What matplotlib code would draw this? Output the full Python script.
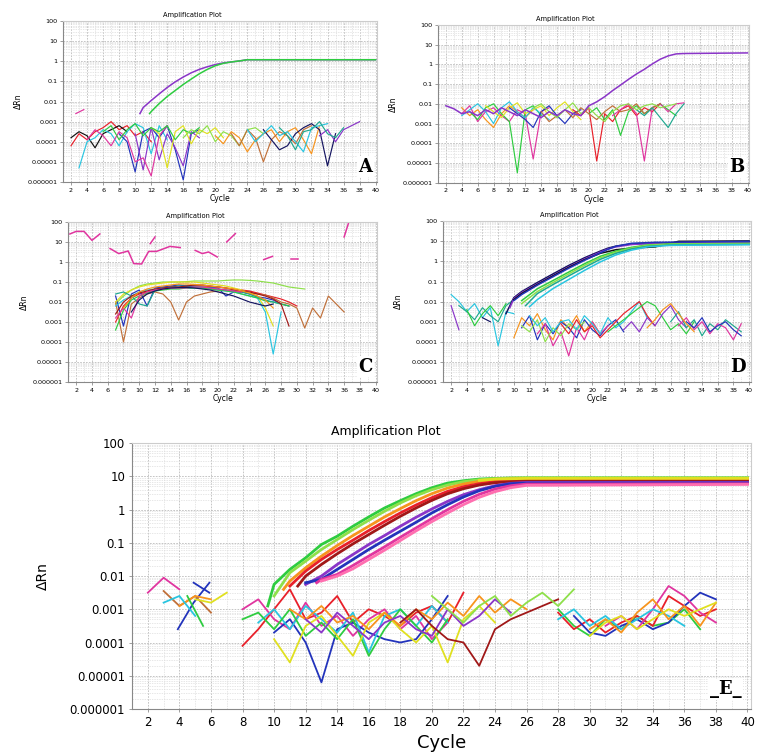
import numpy as np
import matplotlib.pyplot as plt
from matplotlib.ticker import FixedLocator, NullFormatter

# ............................................................ colours
RED = '#e8202a'; ORG = '#f7941d'; YEL = '#e0e020'; GRN = '#2ecc40'; LGR = '#8ee04a'
CYN = '#29c5e0'; BLU = '#2233bb'; NAV = '#141460'; PUR = '#8a35c8'; MAG = '#e0359f'
PNK = '#ff6fb0'; BRN = '#c0703a'; TEA = '#1fa88f'; DRD = '#a01818'; BLK = '#111111'

# ............................................................ axis texts
cycle_ticks = list(range(2, 41, 2))
drn_ticks = [1e-6, 1e-5, 1e-4, 1e-3, 1e-2, 1e-1, 1, 10, 100]
drn_labels = ['0.000001', '0.00001', '0.0001', '0.001', '0.01', '0.1', '1', '10', '100']

# ............................................................ panel A (log10 dRn)
A_amp = [
    (PUR, [10.6, 11, 12, 13, 14, 15, 16, 17, 18, 19, 20, 21, 22, 23, 24, 40],
          [-2.6, -2.3, -1.95, -1.62, -1.3, -1.02, -0.78, -0.57, -0.4, -0.27, -0.16, -0.08, -0.03,
           0.02, 0.08, 0.08]),
    (GRN, [11.8, 12, 13, 14, 15, 16, 17, 18, 19, 20, 21, 22, 23, 24, 40],
          [-2.6, -2.5, -2.1, -1.75, -1.45, -1.15, -0.88, -0.62, -0.4, -0.22, -0.1, -0.03, 0.02,
           0.08, 0.08]),
]
A_noise = [
    (RED, 2, [-4.2, -3.6, -3.9, -3.5, -3.3, -3.0, -3.4, -3.2, -3.7, -3.5, -4.0]),
    (BLK, 2, [-3.8, -3.5, -3.7, -4.3, -3.6, -3.4, -3.2, -3.5]),
    (CYN, 3, [-5.3, -4.0, -3.8, -3.4, -3.6, -4.2, -3.5, -3.1, -3.3, -4.6, -3.2, -3.9]),
    (BLU, 8, [-3.6, -4.0, -5.5, -3.5, -3.3, -3.8, -3.2, -4.4, -5.9, -3.6, -3.4]),
    (PUR, 10, [-3.6, -5.4, -3.3, -4.9, -3.6, -4.3, -5.2, -3.5, -3.8]),
    (MAG, 4, [-3.9, -3.4, -3.7, -4.2, -3.5, -3.8, -5.0, -4.8, -5.7, -3.7, -3.2]),
    (YEL, 12, [-3.3, -3.6, -5.3, -3.5, -3.2, -4.1, -3.4, -3.6, -3.3, -3.8]),
    (GRN, 6, [-3.5, -3.2, -3.9, -3.4, -3.1, -3.7, -3.3, -3.5, -3.2, -3.9, -3.4, -3.6, -3.3]),
    (LGR, 16, [-3.8, -3.4, -3.6, -3.2, -4.0, -3.5, -3.7, -4.2, -3.4, -3.3, -3.6]),
    (ORG, 20, [-3.7, -4.1, -3.5, -3.8, -4.5, -3.9, -3.6, -3.4, -4.0, -3.5, -3.3, -3.9, -4.6, -3.2]),
    (BRN, 22, [-3.6, -4.2, -3.4, -3.8, -5.0, -3.9, -3.5, -3.7, -4.1, -3.4, -3.2]),
    (NAV, 26, [-3.4, -3.9, -4.4, -4.2, -3.6, -3.3, -3.1, -3.4, -5.2, -3.6]),
    (CYN, 24, [-3.4, -4.0, -3.6, -3.2, -3.7, -3.5, -4.0, -4.5, -3.3, -3.2, -3.1]),
    (PUR, 33, [-3.7, -3.4, -4.0, -3.4, -3.2, -3.0]),
    (TEA, 28, [-3.3, -3.7, -4.4, -3.5, -3.4, -3.0, -3.6, -3.8, -3.3]),
    (MAG, 2.6, [-2.6, -2.4]),
]

# ............................................................ panel B
B_amp = [
    (PUR, [2, 3, 4, 5, 6, 7, 8, 9, 10, 11, 12, 13, 14, 15, 16, 17, 18, 19, 20, 21, 22, 23, 24, 25,
           26, 27, 28, 29, 30, 31, 32, 40],
          [-2.1, -2.25, -2.5, -2.4, -2.6, -2.3, -2.5, -2.2, -2.4, -2.6, -2.3, -2.5, -2.7, -2.4, -2.6,
           -2.3, -2.5, -2.6, -2.1, -1.9, -1.64, -1.33, -1.05, -0.76, -0.49, -0.25, 0.02, 0.26, 0.43,
           0.53, 0.55, 0.58]),
]
B_noise = [
    (ORG, 4, [-2.2, -2.6, -2.3, -2.8, -3.2, -2.5, -2.1, -2.4, -2.7, -2.3]),
    (MAG, 4, [-2.5, -2.1, -2.9, -2.4, -2.2, -2.6, -2.9, -2.3, -2.5, -4.8, -2.4, -2.2]),
    (GRN, 5, [-2.4, -2.8, -2.2, -2.0, -2.5, -2.9, -5.5, -2.3, -2.1, -2.6]),
    (CYN, 4, [-2.6, -2.3, -2.0, -2.4, -3.0, -2.2, -1.9, -2.4, -2.7, -2.2, -2.5, -2.8]),
    (YEL, 7, [-2.1, -2.4, -2.7, -2.2, -1.95, -2.5, -2.3, -2.1, -2.6, -2.2, -1.9, -2.4, -2.8]),
    (BLU, 10, [-2.2, -2.5, -2.8, -3.2, -2.4, -2.1, -2.6, -3.0, -2.5, -2.3]),
    (RED, 18, [-2.3, -2.6, -2.2, -4.9, -2.5, -2.9, -2.3, -2.1, -2.6, -2.2, -2.4, -2.0]),
    (GRN, 20, [-2.5, -2.2, -2.8, -2.3, -3.6, -2.4, -2.1, -2.5, -2.2, -2.0, -2.3, -2.6]),
    (MAG, 23, [-2.6, -2.3, -2.0, -2.5, -4.9, -2.2, -2.0, -2.4, -2.0, -1.95]),
    (BRN, 14, [-2.4, -2.9, -2.6, -2.3, -2.7, -2.2, -2.5, -2.8, -2.4, -2.1, -2.4, -2.3, -2.0, -2.5,
               -2.2, -2.0]),
    (TEA, 26, [-2.3, -2.6, -2.2, -2.7, -3.2, -2.5, -2.0]),
    (LGR, 13, [-2.2, -2.0, -2.4, -2.7, -2.3, -1.95, -2.5, -2.2, -2.6, -2.9, -2.4, -2.1, -2.0, -2.3,
               -2.1, -2.0, -2.2, -2.1, -2.0]),
]

# ............................................................ panel C
C_amp = [
    (MAG, [1.2, 2, 3, 4, 5], [1.4, 1.53, 1.53, 1.08, 1.4]),
    (MAG, [6.3, 7.4, 8.6, 9.3, 10.3, 11.2, 12.2, 13.9, 15.2],
          [0.67, 0.42, 0.55, -0.08, -0.1, 0.53, 0.53, 0.78, 0.72]),
    (MAG, [11.4, 12], [0.92, 1.25]),
    (MAG, [17.1, 18, 18.8, 19.9], [0.58, 0.42, 0.5, 0.25]),
    (MAG, [21.1, 22.2], [1.0, 1.42]),
    (MAG, [25.8, 26.9], [0.12, 0.28]),
    (MAG, [29.2, 30.2], [0.17, 0.17]),
    (MAG, [36, 36.6], [1.25, 2.0]),
]
C_noise = [
    (LGR, 7, [-2.1, -1.7, -1.4, -1.2, -1.1, -1.05, -1.0, -1.0, -1.0, -0.98, -0.95, -0.95, -0.95,
              -0.95, -0.92, -0.9, -0.9, -0.92, -0.95, -1.0, -1.05, -1.15, -1.25, -1.3, -1.35]),
    (RED, 7, [-3.0, -2.2, -1.8, -1.6, -1.5, -1.4, -1.35, -1.3, -1.28, -1.25, -1.2, -1.2, -1.22,
              -1.25, -1.3, -1.35, -1.4, -1.45, -1.55, -1.65, -1.75, -1.85, -2.0, -2.2]),
    (BRN, 7, [-2.0, -4.0, -2.1, -1.8, -1.6, -1.5, -1.6, -2.0, -2.9, -2.0, -1.7, -1.6, -1.5, -1.45,
              -1.4, -1.45, -1.5, -1.55, -1.6, -1.65, -1.8, -2.0, -2.1, -2.3, -3.3, -2.3, -2.8,
              -1.7, -2.1, -2.5]),
    (BLU, 7, [-1.7, -3.2, -1.6, -1.4, -2.2, -1.3, -1.25, -1.2, -1.15, -1.2, -1.25, -1.3, -1.28,
              -1.3, -1.7, -1.5, -1.5, -1.6, -1.75, -1.8, -1.9, -2.1, -2.2]),
    (CYN, 7, [-2.2, -1.9, -1.7, -1.5, -1.4, -1.35, -1.3, -1.3, -1.28, -1.3, -1.3, -1.32, -1.35,
              -1.4, -1.45, -1.5, -1.6, -1.7, -1.8, -2.5, -4.6, -2.5]),
    (YEL, 7, [-2.0, -1.6, -1.4, -1.25, -1.15, -1.1, -1.05, -1.0, -1.0, -1.0, -1.0, -1.05, -1.1,
              -1.15, -1.2, -1.3, -1.4, -1.55, -1.7, -2.3, -3.2]),
    (GRN, 7, [-3.4, -2.4, -1.9, -1.7, -1.55, -1.45, -1.4, -1.35, -1.35, -1.3, -1.3, -1.3, -1.35,
              -1.4, -1.45, -1.5, -1.6, -1.7, -1.8, -1.95, -2.0, -2.1, -2.2]),
    (TEA, 7, [-1.6, -1.5, -1.7, -2.1, -2.2, -1.4, -1.3, -1.25, -1.2, -1.2, -1.2, -1.25, -1.3,
              -1.35, -1.4, -1.45, -1.5, -1.6, -1.75, -1.9, -2.0, -2.1]),
    (DRD, 7, [-2.6, -2.0, -1.7, -1.55, -1.45, -1.35, -1.3, -1.25, -1.25, -1.2, -1.15, -1.15, -1.2,
              -1.25, -1.3, -1.4, -1.45, -1.5, -1.6, -1.7, -1.85, -2.1, -3.2]),
    (MAG, 7, [-2.8, -2.3, -2.8, -1.7, -1.5, -1.4, -1.35, -1.3, -1.3, -1.3, -1.25, -1.25, -1.3,
              -1.35, -1.4, -1.45, -1.5]),
    (ORG, 8, [-2.3, -1.8, -1.5, -1.35, -1.25, -1.2, -1.15, -1.1, -1.1, -1.12, -1.15, -1.2, -1.25,
              -1.3, -1.35, -1.45, -1.55, -1.7, -1.9, -2.3]),
    (NAV, 9, [-2.5, -1.9, -1.6, -1.45, -1.35, -1.3, -1.28, -1.27, -1.3, -1.35, -1.4, -1.5, -1.6,
              -1.7, -1.85, -2.0, -2.1, -2.2, -2.1]),
]

# ............................................................ panel D
D_amp = [
    (NAV, [9, 10, 11, 13, 15, 17, 19, 21, 22, 23, 25, 28, 40],
          [-2.6, -1.8, -1.5, -1.05, -0.62, -0.2, 0.18, 0.51, 0.66, 0.76, 0.87, 0.92, 0.98]),
    (PUR, [9.5, 10, 11, 13, 15, 17, 19, 21, 22, 23, 25, 28, 40],
          [-2.3, -1.85, -1.55, -1.12, -0.7, -0.27, 0.12, 0.46, 0.62, 0.72, 0.84, 0.9, 0.95]),
    (BLK, [10, 11, 13, 15, 17, 19, 21, 23, 25, 28, 31, 40],
          [-1.9, -1.6, -1.15, -0.72, -0.3, 0.08, 0.4, 0.58, 0.66, 0.72, 1.0, 1.02]),
    (BLU, [10, 11, 13, 15, 17, 19, 21, 22, 23, 25, 28, 40],
          [-1.95, -1.65, -1.18, -0.76, -0.34, 0.05, 0.42, 0.6, 0.75, 0.9, 0.95, 1.0]),
    (GRN, [11, 13, 15, 17, 19, 21, 23, 25, 27, 30, 40],
          [-1.95, -1.36, -0.95, -0.53, -0.12, 0.25, 0.51, 0.7, 0.82, 0.87, 0.9]),
    (LGR, [11, 13, 15, 17, 19, 21, 23, 25, 27, 30, 40],
          [-2.1, -1.5, -1.05, -0.62, -0.2, 0.18, 0.46, 0.66, 0.8, 0.86, 0.88]),
    (TEA, [11.5, 13, 15, 17, 19, 21, 23, 25, 27, 30, 40],
          [-2.2, -1.6, -1.15, -0.72, -0.3, 0.1, 0.4, 0.62, 0.75, 0.82, 0.85]),
    (CYN, [12, 13, 15, 17, 19, 21, 23, 25, 27, 30, 40],
          [-2.25, -1.9, -1.35, -0.9, -0.45, -0.03, 0.32, 0.56, 0.72, 0.8, 0.83]),
]
D_noise = [
    (CYN, 2, [-1.65, -2.0, -2.5, -2.1, -2.8, -2.3, -4.2, -2.5, -2.6]),
    (PUR, 2, [-2.2, -3.4]),
    (TEA, 3, [-2.2, -2.5, -2.9, -2.3, -2.7, -3.0, -2.2, -1.9]),
    (GRN, 4, [-2.4, -3.2, -2.6, -2.2, -2.7, -2.1]),
    (NAV, 6, [-2.8, -3.0]),
    (ORG, 10, [-3.8, -2.8, -3.2, -2.6, -3.4, -3.9, -2.9, -3.3, -2.7, -3.5, -3.0, -3.6]),
    (BLU, 11, [-3.3, -2.7, -3.9, -3.1, -3.6, -3.0, -3.3, -3.8, -2.9, -3.4, -3.7, -3.2, -2.9, -3.5]),
    (MAG, 13, [-3.6, -3.1, -4.2, -3.5, -4.7, -3.3, -3.9, -3.0, -3.6, -3.2]),
    (LGR, 11, [-3.2, -3.5, -2.9, -4.0, -3.3, -3.7, -3.1, -3.4, -3.0]),
    (CYN, 12, [-2.7, -3.2, -2.8, -3.5, -3.0, -2.9, -3.4, -2.7, -3.1, -3.6, -2.8, -3.3, -3.0,
               -2.5, -2.0, -2.8]),
    (RED, 16, [-3.1, -3.6, -2.9, -3.5, -3.2, -3.8, -3.4, -3.0, -2.6, -2.3, -2.0, -2.7, -3.2]),
    (GRN, 22, [-3.5, -3.2, -2.9, -2.6, -2.3, -2.0, -2.2, -2.8, -3.4, -3.1, -3.6, -3.0]),
    (PUR, 24, [-3.4, -3.0, -3.5, -2.8, -3.2, -2.6, -2.2, -2.9, -3.3]),
    (TEA, 30, [-3.0, -2.5, -3.3, -2.9, -3.7, -3.1, -3.4, -2.9, -3.2, -3.5]),
    (MAG, 31, [-3.2, -2.8, -3.4, -3.0, -3.6, -3.1, -3.3, -3.9, -3.1]),
    (BLU, 32, [-3.0, -3.3, -2.8, -3.5, -3.2, -3.0, -3.4, -3.7]),
    (ORG, 27, [-3.3, -2.9, -2.4, -2.1, -2.6, -3.1, -3.5]),
]

# ............................................................ panel E
E_amp = [
    (GRN, [9.6, 10, 11, 12, 13, 14, 15, 16, 17, 18, 19, 20, 21, 22, 23, 24, 25, 26, 40],
          [-2.9, -2.25, -1.8, -1.45, -1.05, -0.8, -0.5, -0.22, 0.05, 0.27, 0.48, 0.66, 0.8, 0.87,
           0.92, 0.94, 0.95, 0.95, 0.95]),
    (LGR, [10, 11, 12, 13, 14, 15, 16, 17, 18, 19, 20, 21, 22, 23, 24, 25, 26, 40],
          [-2.6, -1.9, -1.55, -1.2, -0.9, -0.6, -0.32, -0.05, 0.2, 0.42, 0.6, 0.74, 0.84, 0.9,
           0.93, 0.95, 0.96, 0.96]),
    (ORG, [10.6, 11, 12, 13, 14, 15, 16, 17, 18, 19, 20, 21, 22, 23, 24, 25, 26, 40],
          [-2.4, -2.15, -1.75, -1.4, -1.08, -0.78, -0.5, -0.22, 0.03, 0.27, 0.48, 0.65, 0.77,
           0.85, 0.9, 0.92, 0.93, 0.93]),
    (RED, [11, 12, 13, 14, 15, 16, 17, 18, 19, 20, 21, 22, 23, 24, 25, 26, 40],
          [-2.3, -1.85, -1.5, -1.2, -0.92, -0.63, -0.36, -0.1, 0.14, 0.36, 0.55, 0.69, 0.78,
           0.84, 0.87, 0.88, 0.88]),
    (DRD, [11.5, 12, 13, 14, 15, 16, 17, 18, 19, 20, 21, 22, 23, 24, 25, 26, 40],
          [-2.3, -2.0, -1.65, -1.33, -1.03, -0.75, -0.47, -0.2, 0.05, 0.28, 0.48, 0.63, 0.74,
           0.81, 0.84, 0.85, 0.85]),
    (PUR, [12, 13, 14, 15, 16, 17, 18, 19, 20, 21, 22, 23, 24, 25, 26, 40],
          [-2.25, -2.0, -1.65, -1.35, -1.05, -0.78, -0.5, -0.23, 0.02, 0.25, 0.45, 0.6, 0.72,
           0.79, 0.82, 0.82]),
    (BLU, [12, 13, 14, 15, 16, 17, 18, 19, 20, 21, 22, 23, 24, 25, 26, 40],
          [-2.2, -2.1, -1.8, -1.5, -1.2, -0.92, -0.65, -0.38, -0.1, 0.15, 0.38, 0.57, 0.7, 0.78,
           0.8, 0.8]),
    (MAG, [12.7, 13, 14, 15, 16, 17, 18, 19, 20, 21, 22, 23, 24, 25, 26, 40],
          [-2.2, -2.1, -1.95, -1.68, -1.4, -1.12, -0.83, -0.55, -0.27, 0.0, 0.25, 0.46, 0.62,
           0.72, 0.77, 0.78]),
    (PNK, [13, 14, 15, 16, 17, 18, 19, 20, 21, 22, 23, 24, 25, 26, 40],
          [-2.15, -2.0, -1.78, -1.5, -1.22, -0.93, -0.64, -0.36, -0.1, 0.15, 0.37, 0.54, 0.66,
           0.73, 0.76]),
    (YEL, [23, 24, 26, 28, 40], [0.88, 0.92, 0.94, 0.94, 0.94]),
]
E_noise = [
    (MAG, 2, [-2.5, -2.05, -2.4]),
    (BLU, 3.9, [-3.6, -2.8, -2.2]),
    (BLU, 4.9, [-2.2, -2.5]),
    (BRN, 3, [-2.45, -2.9, -2.6, -3.1]),
    (ORG, 4, [-2.9, -2.6, -2.7]),
    (CYN, 3, [-2.8, -2.6, -3.2]),
    (GRN, 4.5, [-2.6, -3.5]),
    (YEL, 5, [-2.7, -2.8, -2.5]),
    (RED, 8, [-4.1, -3.6, -3.0, -2.4, -3.3, -3.1, -2.6, -3.4, -3.0, -3.2, -3.5, -3.1, -2.9,
              -3.4, -2.5]),
    (MAG, 8, [-3.0, -2.7, -3.3, -3.6, -2.8, -3.5, -3.2, -3.8, -3.3, -3.0, -3.6, -3.2, -3.9, -3.4]),
    (BLU, 10, [-3.7, -3.3, -4.0, -5.2, -3.6, -3.4, -3.7, -3.9, -4.0, -3.9, -3.3, -2.6]),
    (CYN, 9, [-3.4, -3.0, -3.6, -2.9, -3.3, -3.7, -3.1, -4.3, -3.2, -3.0, -3.5, -2.9, -3.4]),
    (GRN, 8, [-3.3, -3.1, -3.6, -3.0, -3.8, -3.4, -3.9, -3.3, -4.4, -3.6, -3.0, -3.5, -4.0, -3.3]),
    (YEL, 10, [-3.9, -4.6, -3.5, -3.2, -3.8, -4.4, -3.4, -3.1, -3.6, -4.0, -3.5, -4.6, -3.3,
               -2.9, -3.4]),
    (ORG, 11, [-3.0, -3.3, -2.9, -3.4, -3.2, -3.6, -3.1, -3.5, -3.0, -3.3, -2.8, -3.2, -2.6,
               -3.1, -2.7, -3.0]),
    (PUR, 12, [-3.3, -3.7, -3.1, -3.5, -3.9, -3.4, -3.2, -3.6, -3.8, -3.0, -3.5, -3.2, -2.7, -3.1]),
    (DRD, 18, [-3.4, -3.0, -3.5, -3.9, -4.0, -4.7, -3.6, -3.3, -3.1, -2.9, -2.7]),
    (LGR, 20, [-2.6, -3.0, -3.4, -2.9, -2.6, -3.2, -2.8, -2.5, -2.9, -2.4]),
    (GRN, 28, [-3.0, -3.5, -3.8, -3.3, -3.6, -3.2, -3.5, -3.4, -3.0, -3.6]),
    (RED, 28, [-3.1, -3.6, -3.3, -3.7, -3.4, -3.2, -3.5, -2.6, -2.9, -3.2, -3.0]),
    (BLU, 29, [-3.2, -3.7, -3.8, -3.5, -3.3, -3.6, -3.4, -2.9, -2.5, -2.7]),
    (MAG, 31, [-3.5, -3.2, -3.6, -3.0, -2.3, -2.6, -3.1, -3.4]),
    (CYN, 28, [-3.3, -3.0, -3.5, -3.2, -3.6, -3.3, -3.0, -3.2, -3.5]),
    (ORG, 30, [-3.6, -3.3, -3.7, -3.1, -2.7, -3.3, -2.9, -3.5, -2.8]),
    (YEL, 30, [-3.8, -3.4, -3.2, -3.6, -3.3, -3.0, -3.2, -3.0, -2.8]),
]


# ............................................................ drawing
def panel(rect, amp, noise, letter, big=False):
    ax = fig.add_axes(rect)
    fs = 8.5 if big else 4.6
    lw_n = 1.3 if big else 0.85
    lw_a = 2.0 if big else 1.1
    for col, start, vals in noise:
        xs = start + np.arange(len(vals))
        ax.plot(xs, 10.0 ** np.array(vals), color=col, lw=lw_n)
    for col, xs, vals in amp:
        ax.plot(xs, 10.0 ** np.array(vals), color=col, lw=lw_a)
    ax.set_yscale('log')
    ax.set_ylim(1e-6, 100)
    ax.set_xlim(1, 40.2)
    ax.yaxis.set_major_locator(FixedLocator(drn_ticks))
    ax.yaxis.set_minor_locator(FixedLocator([m * 10.0 ** e for e in range(-6, 2) for m in range(2, 10)]))
    ax.yaxis.set_minor_formatter(NullFormatter())
    ax.set_yticklabels(drn_labels)
    ax.set_xticks(cycle_ticks)
    ax.set_xticks(range(1, 41), minor=True)
    ax.tick_params(labelsize=fs, length=2, width=0.5, color='#777777', pad=3 if big else 2)
    ax.tick_params(which='minor', length=0)
    ax.grid(which='major', color='#bbbbbb', ls=(0, (2, 1.5)), lw=0.6)
    ax.grid(which='minor', color='#dddddd', ls=(0, (2, 1.5)), lw=0.5)
    for s in ['top', 'right']:
        ax.spines[s].set_color('#cccccc')
    for s in ['left', 'bottom']:
        ax.spines[s].set_color('#888888')
    for s in ax.spines.values():
        s.set_linewidth(0.8)
    ax.set_title('Amplification Plot', fontsize=9 if big else 4.8, x=0.41, pad=6 if big else 3)
    ax.set_xlabel('Cycle', fontsize=13 if big else 5.5, labelpad=4 if big else 1)
    ax.set_ylabel('\u0394Rn', fontsize=10 if big else 5.5, labelpad=14 if big else 3)
    ax.text(0.985, 0.04, letter, transform=ax.transAxes, ha='right', va='bottom',
            fontsize=13, fontweight='bold', family='DejaVu Serif',
            bbox=dict(facecolor='white', edgecolor='none', pad=1))
    return ax


fig = plt.figure(figsize=(7.59, 7.55), dpi=100)
panel([0.083, 0.759, 0.414, 0.213], A_amp, A_noise, 'A')
panel([0.577, 0.758, 0.410, 0.209], B_amp, B_noise, 'B')
panel([0.090, 0.494, 0.407, 0.212], C_amp, C_noise, 'C')
panel([0.584, 0.494, 0.405, 0.213], D_amp, D_noise, 'D')
panel([0.174, 0.061, 0.815, 0.352], E_amp, E_noise, '_E_', big=True)
plt.savefig('out.png', dpi=100)
